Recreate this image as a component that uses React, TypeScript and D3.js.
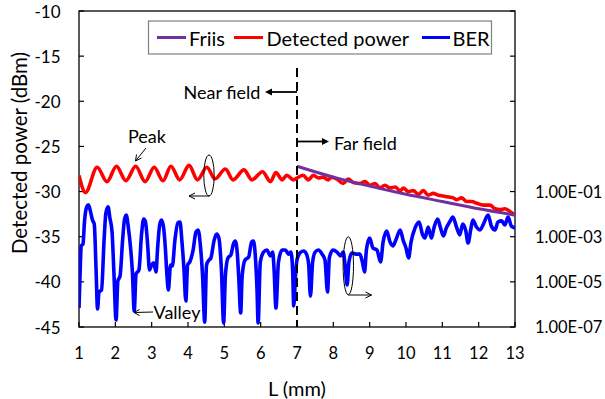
import React from 'react';
import * as d3 from 'd3';

// ---- data ----
const friisL = [7, 8, 9, 10, 11, 12, 13];
const friisDbm = [-27.2, -28.4, -29.4, -30.3, -31.1, -31.9, -32.6];

const powerL = [
  1.0, 1.18, 1.5, 1.77, 2.03, 2.29, 2.56, 2.82, 3.07, 3.31, 3.53, 3.77, 4.03, 4.26, 4.52, 4.74,
  5.03, 5.24, 5.54, 5.76, 6.05, 6.27, 6.42, 6.59, 6.72, 6.9,
  7.0, 7.17, 7.31, 7.45, 7.59, 7.72, 7.86, 7.95, 8.09, 8.27, 8.41, 8.55, 8.73, 8.87, 9.01, 9.15,
  9.28, 9.42, 9.56, 9.7, 9.84, 9.93, 10.06, 10.2, 10.34, 10.48, 10.61, 10.75, 10.89, 11.03,
  11.17, 11.3, 11.4, 11.53, 11.67, 11.81, 11.95, 12.13, 12.31, 12.45, 12.59, 12.72, 12.86, 13.0,
];
const powerDbm = [
  -28.2, -30.1, -27.3, -28.9, -27.2, -28.8, -27.2, -28.9, -27.3, -28.8, -27.2, -28.7, -27.1, -28.7, -27.3, -28.6,
  -27.5, -28.7, -27.6, -28.7, -27.8, -28.9, -27.9, -28.7, -28.2, -28.7,
  -28.5, -28.2, -28.7, -28.2, -28.5, -28.4, -28.7, -28.4, -28.6, -29.1, -28.6, -29.0, -29.1, -28.9, -29.3, -29.1,
  -29.6, -29.3, -29.6, -29.5, -29.9, -29.6, -30.0, -29.9, -30.3, -29.9, -30.4, -30.2, -30.4, -30.5,
  -30.6, -30.7, -30.9, -30.7, -31.1, -31.1, -31.3, -31.5, -31.5, -31.9, -32.0, -31.9, -32.2, -32.6,
];

const berL = [
  1.0, 1.04, 1.06, 1.11, 1.15, 1.21, 1.26, 1.32, 1.37, 1.42, 1.47, 1.51, 1.55, 1.62, 1.69, 1.74, 1.8, 1.85, 1.91, 1.96,
  2.02, 2.07, 2.13, 2.2, 2.25, 2.3, 2.36, 2.42, 2.47, 2.52, 2.57, 2.65, 2.72, 2.78, 2.83, 2.89, 2.94, 3.0, 3.06, 3.12,
  3.16, 3.22, 3.27, 3.33, 3.38, 3.42, 3.46, 3.52, 3.57, 3.64, 3.72, 3.78, 3.83, 3.89, 3.94, 3.99, 4.05, 4.14, 4.22, 4.28,
  4.34, 4.4, 4.46, 4.51, 4.58, 4.63, 4.72, 4.79, 4.85, 4.92, 4.98, 5.03, 5.1, 5.18, 5.25, 5.3, 5.36, 5.4, 5.45, 5.49,
  5.57, 5.67, 5.75, 5.8, 5.86, 5.9, 5.93, 5.99, 6.08, 6.17, 6.27, 6.33, 6.37, 6.42, 6.49, 6.59, 6.68, 6.77, 6.83, 6.88,
  6.91, 6.96, 7.0, 7.08, 7.18, 7.26, 7.32, 7.37, 7.43, 7.5, 7.59, 7.69, 7.77, 7.84, 7.89, 7.99, 8.1, 8.2, 8.27, 8.32,
  8.38, 8.43, 8.51, 8.62, 8.73, 8.8, 8.86, 8.91, 9.0, 9.09, 9.2, 9.3, 9.37, 9.47, 9.56, 9.64, 9.72, 9.84, 9.92, 10.0,
  10.07, 10.14, 10.25, 10.36, 10.45, 10.52, 10.61, 10.7, 10.77, 10.87, 10.95, 11.03, 11.11, 11.2, 11.29, 11.39, 11.48,
  11.56, 11.64, 11.71, 11.78, 11.84, 11.94, 12.04, 12.13, 12.26, 12.35, 12.45, 12.53, 12.63, 12.72, 12.81, 12.9, 13.0,
];
// log10(BER)
const berExp = [
  -6.16, -4.12, -3.41, -3.32, -2.35, -1.68, -1.59, -1.91, -2.26, -2.44, -4.47, -6.2, -5.45, -5.36, -3.15, -1.95, -1.68, -2.17, -2.79, -4.56,
  -6.69, -4.96, -4.74, -3.15, -2.26, -2.04, -2.61, -3.5, -4.56, -6.29, -4.65, -4.47, -2.92, -2.22, -2.35, -3.37, -4.47, -4.25, -4.16, -4.56,
  -3.59, -2.48, -2.26, -2.61, -3.59, -4.7, -5.36, -4.25, -4.3, -3.15, -2.39, -2.35, -3.15, -4.47, -5.85, -4.25, -4.12, -3.59, -2.79, -2.7,
  -3.37, -4.7, -6.78, -4.25, -4.03, -3.94, -3.15, -2.88, -3.06, -4.47, -6.82, -4.7, -3.94, -3.81, -3.32, -3.19, -3.81, -4.92, -6.38, -4.74,
  -4.03, -3.9, -3.23, -3.19, -4.03, -5.36, -6.82, -4.12, -3.68, -3.59, -3.85, -3.68, -4.47, -6.16, -4.12, -3.59, -3.59, -3.77, -3.68, -4.47,
  -6.07, -4.7, -4.03, -3.72, -3.63, -3.77, -4.21, -5.63, -4.12, -3.68, -3.59, -3.77, -4.03, -5.45, -3.94, -3.59, -3.68, -3.85, -3.68, -4.21,
  -5.14, -4.12, -3.72, -3.77, -3.77, -4.12, -4.56, -3.59, -3.06, -3.5, -3.59, -4.12, -3.23, -2.75, -3.23, -3.41, -3.15, -2.7, -3.15, -3.5,
  -3.94, -3.23, -2.61, -2.35, -2.88, -3.06, -2.57, -3.06, -2.61, -2.22, -2.61, -2.97, -2.61, -2.35, -2.13, -2.57, -2.92,
  -2.44, -2.7, -3.28, -2.7, -2.26, -2.57, -2.7, -2.44, -2.04, -2.53, -2.7, -2.35, -2.3, -2.48, -2.13, -2.53, -2.61,
];

const xTicks = [1, 2, 3, 4, 5, 6, 7, 8, 9, 10, 11, 12, 13];
const leftTicks = [-45, -40, -35, -30, -25, -20, -15, -10];
const rightTicks = [1e-7, 1e-5, 1e-3, 1e-1, 1e1, 1e3, 1e5, 1e7];
const rightLabelValues = [1e-1, 1e-3, 1e-5, 1e-7];
const rightLabels = ['1.00E-01', '1.00E-03', '1.00E-05', '1.00E-07'];
const legendNames = ['Friis', 'Detected power', 'BER'];
const boundaryL = 7;

const COLORS = { friis: '#7030A0', power: '#FF0000', ber: '#0000FF' };
const FONT = 'Lato, "Open Sans", sans-serif';

export default function App() {
  const W = 605, H = 399;
  const left = 79, right = 515, top = 11, bottom = 327;
  const x = d3.scaleLinear().domain([1, 13]).range([left, right]);
  const yL = d3.scaleLinear().domain([-45, -10]).range([bottom, top]);
  const yR = d3.scaleLog().domain([1e-7, 1e7]).range([bottom, top]);

  const powerPath = d3.line<number>().x((_, i) => x(powerL[i])).y((d) => yL(d)).curve(d3.curveMonotoneX)(powerDbm) || '';
  const friisPath = d3.line<number>().x((_, i) => x(friisL[i])).y((d) => yL(d)).curve(d3.curveMonotoneX)(friisDbm) || '';
  const berPath = d3.line<number>().x((_, i) => x(berL[i])).y((d) => yR(Math.pow(10, d))).curve(d3.curveMonotoneX)(berExp) || '';

  const xb = x(boundaryL);
  const tickLen = 5;

  return (
    <svg width={W} height={H} style={{ position: 'absolute', left: 0, top: 0, background: '#fff' }} fontFamily={FONT}>
      <defs>
        <clipPath id="plot">
          <rect x={left} y={top} width={right - left} height={bottom - top} />
        </clipPath>
      </defs>
      <rect x={0} y={0} width={W} height={H} fill="#fff" />

      {/* frame */}
      <rect x={left} y={top} width={right - left} height={bottom - top} fill="none" stroke="#000" strokeWidth={1.3} />

      {/* ticks */}
      {xTicks.map((t) => (
        <g key={'x' + t}>
          <line x1={x(t)} x2={x(t)} y1={bottom} y2={bottom - tickLen} stroke="#000" strokeWidth={1.2} />
          <text x={x(t)} y={353} textAnchor="middle" dominantBaseline="central" fontSize={16.5}>{t}</text>
        </g>
      ))}
      {leftTicks.map((t) => (
        <g key={'l' + t}>
          <line x1={left} x2={left + tickLen} y1={yL(t)} y2={yL(t)} stroke="#000" strokeWidth={1.2} />
          <text x={60.5} y={yL(t)} textAnchor="end" dominantBaseline="central" fontSize={17}>{t}</text>
        </g>
      ))}
      {rightTicks.map((t, i) => (
        <line key={'r' + i} x1={right} x2={right - tickLen} y1={yR(t)} y2={yR(t)} stroke="#000" strokeWidth={1.2} />
      ))}
      {rightLabelValues.map((t, i) => (
        <text key={'rl' + i} x={535} y={yR(t)} textAnchor="start" dominantBaseline="central" fontSize={16.5}>{rightLabels[i]}</text>
      ))}

      {/* axis titles */}
      <text x={297} y={388} textAnchor="middle" dominantBaseline="central" fontSize={20}>L (mm)</text>
      <text transform={`translate(19,153) rotate(-90)`} textAnchor="middle" dominantBaseline="central" fontSize={20.5}>Detected power (dBm)</text>

      {/* series */}
      <g clipPath="url(#plot)">
        <path d={berPath} fill="none" stroke={COLORS.ber} strokeWidth={3.6} strokeLinejoin="round" />
        <path d={powerPath} fill="none" stroke={COLORS.power} strokeWidth={3.6} strokeLinejoin="round" />
        <path d={friisPath} fill="none" stroke={COLORS.friis} strokeWidth={3} strokeLinejoin="round" />
      </g>

      {/* boundary line */}
      <line x1={xb} x2={xb} y1={68} y2={bottom} stroke="#000" strokeWidth={2} strokeDasharray="9,5" />

      {/* near / far field arrows */}
      <line x1={xb} x2={270} y1={92} y2={92} stroke="#000" strokeWidth={1.8} />
      <path d={`M${265},92 L${272},88.5 L${272},95.5 Z`} fill="#000" />
      <text x={222} y={92} textAnchor="middle" dominantBaseline="central" fontSize={18}>Near field</text>
      <line x1={xb} x2={324} y1={141.5} y2={141.5} stroke="#000" strokeWidth={1.8} />
      <path d={`M${329},141.5 L${322},138 L${322},145 Z`} fill="#000" />
      <text x={334} y={143} textAnchor="start" dominantBaseline="central" fontSize={18}>Far field</text>

      {/* Peak / Valley */}
      <text x={147} y={136} textAnchor="middle" dominantBaseline="central" fontSize={18}>Peak</text>
      <line x1={146} y1={148} x2={135.5} y2={161} stroke="#000" strokeWidth={1} />
      <path d="M135.5,161 L136.5,154.5 M135.5,161 L141.5,158" stroke="#000" strokeWidth={1} fill="none" />
      <text x={177} y={312} textAnchor="middle" dominantBaseline="central" fontSize={18}>Valley</text>
      <line x1={153} y1={312} x2={134} y2={312.5} stroke="#000" strokeWidth={1} />
      <path d="M134,312.5 L139.5,309.5 M134,312.5 L139.5,315.5" stroke="#000" strokeWidth={1} fill="none" />

      {/* ellipse markers */}
      <ellipse cx={209} cy={175.5} rx={5.2} ry={20.5} fill="none" stroke="#000" strokeWidth={1} />
      <line x1={209.5} y1={196} x2={189} y2={196} stroke="#000" strokeWidth={1} />
      <path d="M189,196 L195,193 M189,196 L195,199" stroke="#000" strokeWidth={1} fill="none" />
      <ellipse cx={348.3} cy={265.8} rx={5.2} ry={29} fill="none" stroke="#000" strokeWidth={1} />
      <line x1={348.3} y1={295} x2={371.5} y2={295} stroke="#000" strokeWidth={1} />
      <path d="M371.5,295 L365.5,292 M371.5,295 L365.5,298" stroke="#000" strokeWidth={1} fill="none" />

      {/* legend */}
      <rect x={148.5} y={21} width={343} height={33} fill="#fff" stroke="#808080" strokeWidth={1.2} />
      {[
        { c: COLORS.friis, x1: 157, x2: 186, tx: 189 },
        { c: COLORS.power, x1: 234, x2: 263, tx: 266.5 },
        { c: COLORS.ber, x1: 422, x2: 450, tx: 452.5 },
      ].map((it, i) => (
        <g key={'lg' + i}>
          <line x1={it.x1} x2={it.x2} y1={37.5} y2={37.5} stroke={it.c} strokeWidth={3} />
          <text x={it.tx} y={37.5} dominantBaseline="central" fontSize={20}>{legendNames[i]}</text>
        </g>
      ))}
    </svg>
  );
}
